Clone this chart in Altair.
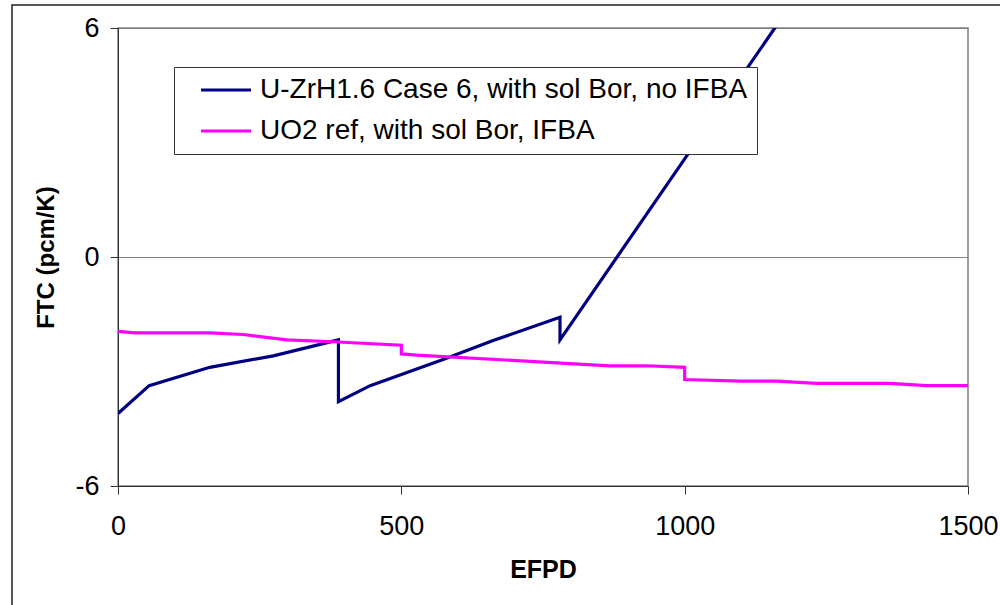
import altair as alt
import pandas as pd

# Fuel temperature coefficient vs. burnup
series_names = ["U-ZrH1.6 Case 6, with sol Bor, no IFBA", "UO2 ref, with sol Bor, IFBA"]
series_colors = ["#000080", "#FF00FF"]

zrh_efpd = [0, 55, 162, 274, 389, 389, 445, 575, 662, 780, 780, 1200]
zrh_ftc = [-4.10, -3.37, -2.89, -2.59, -2.17, -3.79, -3.37, -2.68, -2.19, -1.58, -2.17, 6.88]

uo2_efpd = [0, 30, 162, 221, 298, 380, 500, 500, 527, 868, 933, 1000, 1000,
            1098, 1162, 1233, 1362, 1427, 1500]
uo2_ftc = [-1.95, -1.99, -1.99, -2.03, -2.17, -2.22, -2.31, -2.54, -2.57, -2.85,
           -2.85, -2.89, -3.21, -3.25, -3.25, -3.31, -3.31, -3.37, -3.37]

x_ticks = [0, 500, 1000, 1500]
y_ticks = [-6, 0, 6]

rows = []
for i, (x, y) in enumerate(zip(zrh_efpd, zrh_ftc)):
    rows.append({"EFPD": x, "FTC": y, "series": series_names[0], "idx": i})
for i, (x, y) in enumerate(zip(uo2_efpd, uo2_ftc)):
    rows.append({"EFPD": x, "FTC": y, "series": series_names[1], "idx": i})
df = pd.DataFrame(rows)

font = "Liberation Sans"
plain_label = "'' + datum.value"

lines = alt.Chart(df).mark_line(strokeWidth=3.2, clip=True).encode(
    x=alt.X("EFPD:Q",
            scale=alt.Scale(domain=[0, 1500], nice=False, zero=False),
            axis=alt.Axis(values=x_ticks, title="EFPD", grid=False,
                          labelExpr=plain_label,
                          domainColor="#333333", tickColor="#333333",
                          tickSize=8, labelFontSize=27, labelPadding=19,
                          labelFont=font, labelColor="#000000",
                          titleFont=font, titleFontSize=25, titleFontWeight="bold",
                          titleColor="#000000", titlePadding=18,
                          labelFlush=False)),
    y=alt.Y("FTC:Q",
            scale=alt.Scale(domain=[-6, 6], nice=False, zero=False),
            axis=alt.Axis(values=y_ticks, title="FTC (pcm/K)", grid=True,
                          labelExpr=plain_label,
                          gridColor="#808080", gridWidth=1,
                          domainColor="#333333", tickColor="#333333",
                          tickSize=8, labelFontSize=27, labelPadding=11,
                          labelFont=font, labelColor="#000000",
                          titleFont=font, titleFontSize=24, titleFontWeight="bold",
                          titleColor="#000000", titlePadding=16)),
    color=alt.Color("series:N",
                    scale=alt.Scale(domain=series_names, range=series_colors),
                    legend=alt.Legend(orient="none", legendX=56, legendY=39,
                                      title=None, symbolType="M-2.5,0H2.5",
                                      symbolSize=400, symbolStrokeWidth=3.2,
                                      symbolOffset=29, labelOffset=20,
                                      labelFont=font, labelFontSize=28,
                                      labelColor="#000000", labelLimit=700,
                                      rowPadding=13, padding=9,
                                      strokeColor="#333333", fillColor="#FFFFFF")),
    order="idx:Q",
)

# outer chart-area frame
frame = alt.Chart(pd.DataFrame({"a": [0]})).mark_rect(
    fill=None, stroke="#222222", strokeWidth=1.5, clip=False
).encode(x=alt.value(-106), x2=alt.value(920), y=alt.value(-23), y2=alt.value(640))

chart = alt.layer(frame, lines).properties(
    width=850, height=458,
    autosize=alt.AutoSizeParams(type="none"),
    padding={"left": 118, "top": 28, "right": 32, "bottom": 119},
    background="#FFFFFF",
).configure_view(stroke="#808080", strokeWidth=1.5)

chart.save("out.html", embed_options={"renderer": "svg", "actions": False})
